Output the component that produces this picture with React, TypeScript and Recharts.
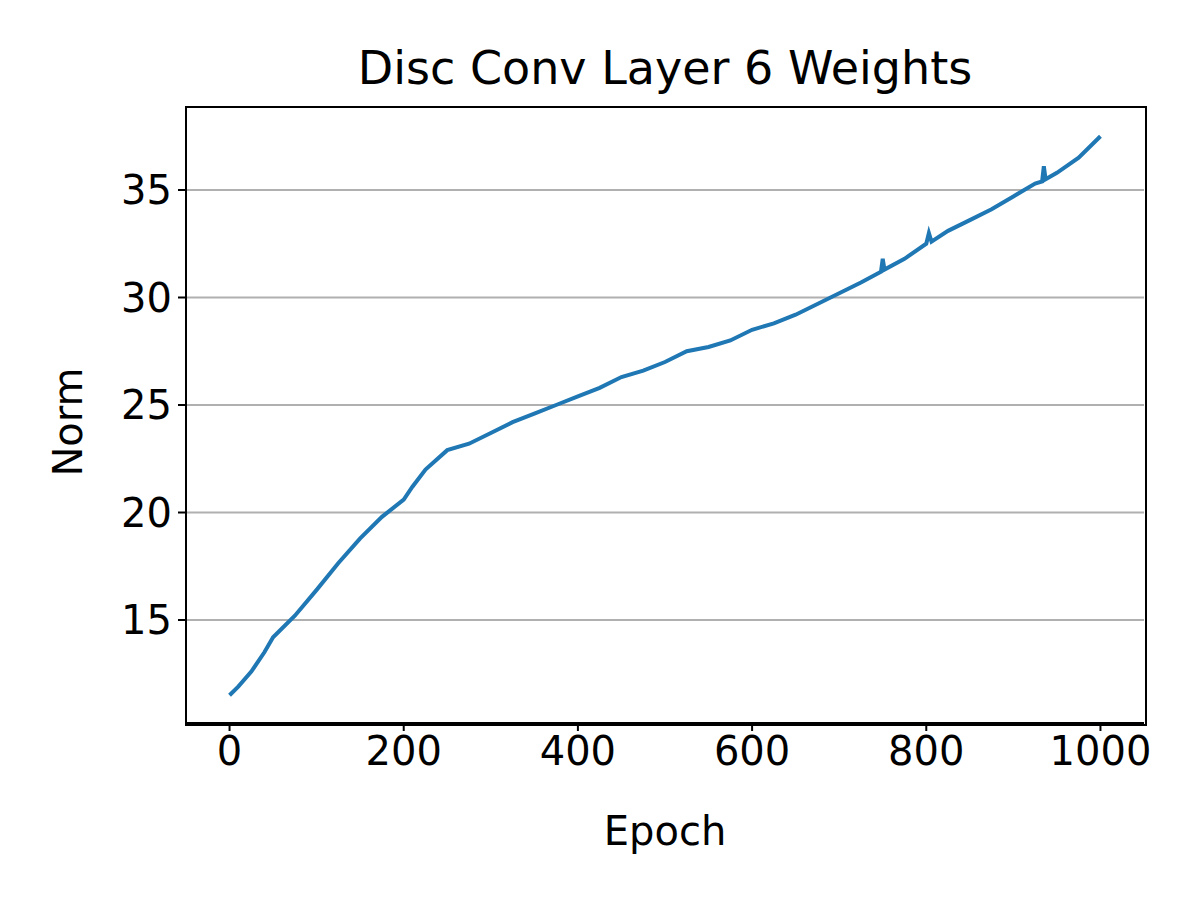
import React from "react";
import { LineChart, Line, XAxis, YAxis, CartesianGrid } from "recharts";

const epochs = [0,10,25,40,50,75,100,125,150,175,200,210,225,250,275,300,325,350,375,400,425,450,475,500,525,550,575,600,625,650,675,700,725,748,750,752,775,800,803,806,825,850,875,900,925,933,935,937,950,975,1000];
const norms = [11.5,11.9,12.6,13.5,14.2,15.2,16.4,17.65,18.8,19.8,20.6,21.2,22.0,22.9,23.2,23.7,24.2,24.6,25.0,25.4,25.8,26.3,26.6,27.0,27.5,27.7,28.0,28.5,28.8,29.2,29.7,30.2,30.7,31.2,31.8,31.3,31.8,32.5,33.0,32.6,33.1,33.6,34.1,34.7,35.3,35.4,36.1,35.5,35.8,36.5,37.5];
const xTicks = [0,200,400,600,800,1000];
const yTicks = [15,20,25,30,35];

const data = epochs.map((e, i) => ({ epoch: e, norm: norms[i] }));
const font = "DejaVu Sans, sans-serif";
const tick = { fill: "#000", fontSize: 40, fontFamily: font };

export default function App() {
  return (
    <div style={{ margin: -8, position: "relative", width: 1200, height: 900, background: "#fff" }}>
      <div style={{ position: "absolute", top: 38, left: 0, width: 1330, textAlign: "center", fontFamily: font, fontSize: 46, lineHeight: "60px" }}>
        Disc Conv Layer 6 Weights
      </div>
      <div style={{ position: "absolute", top: 806, left: 0, width: 1330, textAlign: "center", fontFamily: font, fontSize: 40, lineHeight: "50px" }}>
        Epoch
      </div>
      <div style={{ position: "absolute", top: 422, left: 68, transform: "translate(-50%,-50%) rotate(-90deg)", fontFamily: font, fontSize: 40, lineHeight: "50px" }}>
        Norm
      </div>
      <LineChart width={1200} height={900} data={data} margin={{ top: 107, right: 56, bottom: 117, left: 86 }}>
        <CartesianGrid vertical={false} stroke="#b0b0b0" strokeWidth={2} />
        <XAxis dataKey="epoch" type="number" domain={[-50, 1050]} ticks={xTicks} tick={tick} tickSize={8} height={60}
          axisLine={{ stroke: "#000", strokeWidth: 2 }} tickLine={{ stroke: "#000", strokeWidth: 2 }} tickMargin={6} />
        <YAxis type="number" domain={[10.21, 38.86]} ticks={yTicks} tick={tick} tickSize={8} width={100}
          axisLine={{ stroke: "#000", strokeWidth: 2 }} tickLine={{ stroke: "#000", strokeWidth: 2 }} tickMargin={6} />
        <Line dataKey="norm" stroke="#1f77b4" strokeWidth={4} dot={false} isAnimationActive={false} />
      </LineChart>
      <div style={{ position: "absolute", left: 185, top: 106, width: 958, height: 616, border: "2px solid #000", pointerEvents: "none" }} />
    </div>
  );
}
